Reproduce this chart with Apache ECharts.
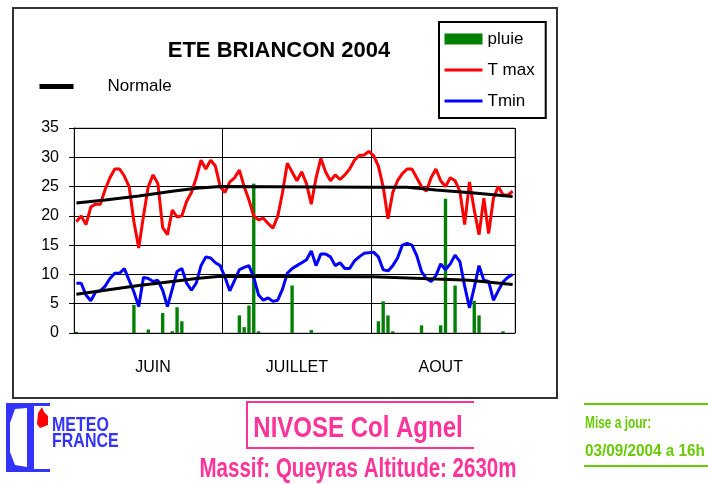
<!DOCTYPE html>
<html>
<head>
<meta charset="utf-8">
<script src="https://cdn.jsdelivr.net/npm/echarts@6/dist/echarts.min.js"></script>
<style>
  html, body { margin: 0; padding: 0; background: #fff; }
  #chart { width: 708px; height: 484px; }
</style>
</head>
<body>
<div id="chart"></div>
<script>
// jours du 1er juin au 31 aout 2004
const monthNums = ['06', '07', '08'];
const monthDays = [30, 31, 31];
const days = [];
monthNums.forEach((m, k) => {
  for (let d = 1; d <= monthDays[k]; d++) days.push(String(d).padStart(2, '0') + '/' + m);
});

// libelles de mois (un repere tous les 31 jours)
const monthLabels = ['JUIN', 'JUILLET', 'AOUT'];
const monthLabelDays = [16, 46, 76];
const tickEvery = 31;

const yTicks = [0, 5, 10, 15, 20, 25, 30, 35];

// pluie (mm)
const pluie = [
  0.2, 0, 0, 0, 0, 0, 0, 0, 0, 0,
  0, 0, 4.8, 0, 0, 0.6, 0, 0, 3.4, 0,
  0.3, 4.4, 2, 0, 0, 0, 0, 0, 0, 0,
  0, 0, 0, 0, 3, 1, 4.7, 25.5, 0.3, 0,
  0, 0, 0, 0, 0, 8.1, 0, 0, 0, 0.5,
  0, 0, 0, 0, 0, 0, 0, 0, 0, 0,
  0, 0, 0, 2, 5.4, 3, 0.3, 0, 0, 0,
  0, 0, 1.3, 0, 0, 0, 1.3, 22.9, 0, 8.1,
  0, 0, 0, 5.5, 3, 0, 0, 0, 0, 0.3,
  0, 0
];

// temperatures maximales
const tMax = [
  19, 20, 18.5, 21.5, 22, 22, 24.5, 26.5, 28, 28,
  26.8, 25, 19, 14.5, 20, 25, 27, 25.5, 18, 16.8,
  21, 19.8, 20, 22.5, 24, 26.5, 29.5, 28, 29.5, 28.5,
  25, 24, 25.8, 26.5, 27.8, 25, 22.7, 20, 19.3, 19.6,
  18.7, 17.9, 19.9, 24, 29, 27.5, 26, 27.5, 25.5, 22,
  26.5, 29.8, 27.5, 26, 27, 26.2, 27, 28, 29.5, 30.3,
  30.4, 31, 30.3, 28.5, 25, 19.5, 24, 26, 27.2, 28,
  28, 26.5, 25, 24.2, 26.5, 28, 26, 25, 26.5, 26,
  24.2, 18.5, 25.8, 21, 16.8, 23, 17, 23, 25, 23.6,
  23.5, 24.2
];

// temperatures minimales
const tMin = [
  8.5, 8.5, 6.5, 5.5, 7, 7.2, 8, 9.3, 10.2, 10.2,
  11, 9, 7, 4.5, 9.5, 9.3, 8.8, 9, 7.3, 4.5,
  7.5, 10.5, 11, 8.5, 7.3, 8.5, 11.5, 13, 12.8, 12,
  11.5, 9.5, 7.2, 9, 10.8, 11.2, 11.5, 9.5, 6.5, 5.6,
  6, 5.4, 5.6, 7.5, 10.2, 11, 11.5, 12, 12.5, 14,
  11.5, 13.5, 13.5, 13, 11.5, 12, 11, 11, 12.3, 13,
  13.6, 13.7, 13.8, 13, 10.8, 10.6, 11.5, 12.8, 15, 15.3,
  15, 13.2, 10.5, 9.3, 8.8, 9.8, 11.8, 10.8, 11.8, 13.3,
  12.2, 8, 4.3, 7.8, 11.5, 9, 8.8, 5.6, 7.2, 8.7,
  9.5, 10
];

// normales [jour, valeur]
const normaleMax = [[0, 22.2], [6, 22.7], [13, 23.4], [20, 24.2], [25, 24.7], [30, 25], [62, 24.9], [69, 24.9], [75, 24.4], [83, 23.9], [91, 23.3]];
const normaleMin = [[0, 6.6], [6, 7.3], [13, 8.1], [20, 8.8], [25, 9.3], [30, 9.7], [62, 9.6], [75, 9.2], [82, 9.0], [91, 8.3]];

const FONT = 'Liberation Sans';
const noDot = { opacity: 0 };
const chart = echarts.init(document.getElementById('chart'), null, { renderer: 'canvas' });

chart.setOption({
  animation: false,
  backgroundColor: '#fff',
  textStyle: { fontFamily: FONT, color: '#000' },
  title: {
    text: 'ETE BRIANCON 2004',
    left: 274,
    top: 35,
    textAlign: 'center',
    textStyle: { fontFamily: FONT, fontSize: 22, fontWeight: 'bold', color: '#000' }
  },
  legend: [
    {
      data: [
        { name: 'pluie', icon: 'rect' },
        { name: 'T max', itemStyle: noDot },
        { name: 'Tmin', itemStyle: noDot }
      ],
      orient: 'vertical',
      left: 439,
      top: 22,
      padding: [7, 11, 7, 4],
      itemWidth: 38,
      itemHeight: 11,
      itemGap: 11,
      lineStyle: { width: 3 },
      borderColor: '#000',
      borderWidth: 2,
      textStyle: { fontFamily: FONT, fontSize: 17, lineHeight: 20, color: '#000' }
    },
    {
      data: [{ name: 'Normale', itemStyle: noDot }],
      left: 37,
      top: 78,
      padding: 0,
      itemWidth: 34,
      itemHeight: 10,
      lineStyle: { width: 5 },
      formatter: '{n|{name}}',
      textStyle: {
        fontFamily: FONT, fontSize: 17, color: '#000',
        rich: { n: { fontFamily: FONT, fontSize: 17, color: '#000', padding: [0, 0, 0, 29] } }
      }
    }
  ],
  grid: {
    left: 74, top: 128, width: 441, height: 205,
    show: true, borderColor: '#999', borderWidth: 1
  },
  xAxis: {
    type: 'category',
    data: days,
    boundaryGap: true,
    axisLine: { lineStyle: { color: '#000', width: 1 } },
    axisTick: {
      interval: (i) => i % tickEvery === 0,
      length: 7,
      lineStyle: { color: '#000' }
    },
    splitLine: {
      show: true,
      interval: (i) => i % tickEvery === 0,
      lineStyle: { color: '#000', width: 1 }
    },
    axisLabel: {
      interval: (i) => monthLabelDays.indexOf(i) >= 0,
      formatter: (v, i) => monthLabels[monthLabelDays.indexOf(i)] || '',
      margin: 27,
      fontFamily: FONT,
      fontSize: 16,
      color: '#000'
    }
  },
  yAxis: {
    type: 'value',
    min: yTicks[0],
    max: yTicks[yTicks.length - 1],
    interval: 5,
    axisLine: { show: true, lineStyle: { color: '#000', width: 1 } },
    axisTick: { show: true, length: 5, lineStyle: { color: '#000' } },
    splitLine: { lineStyle: { color: '#000', width: 1 } },
    axisLabel: { margin: 15, fontFamily: FONT, fontSize: 16, color: '#000' }
  },
  series: [
    {
      name: 'pluie', type: 'bar', data: pluie,
      barCategoryGap: '30%',
      itemStyle: { color: '#008000' }
    },
    {
      name: 'T max', type: 'line', data: tMax,
      symbol: 'none', lineStyle: { color: '#ff0000', width: 3 }, itemStyle: { color: '#ff0000' }
    },
    {
      name: 'Tmin', type: 'line', data: tMin,
      symbol: 'none', lineStyle: { color: '#0000ff', width: 3 }, itemStyle: { color: '#0000ff' }
    },
    {
      name: 'Normale', type: 'line', data: normaleMax,
      symbol: 'none', lineStyle: { color: '#000', width: 3 }, itemStyle: { color: '#000' }, z: 4
    },
    {
      name: 'Normale', type: 'line', data: normaleMin,
      symbol: 'none', lineStyle: { color: '#000', width: 3 }, itemStyle: { color: '#000' }, z: 4
    }
  ],
  graphic: [
    // cadre du graphique
    { type: 'rect', shape: { x: 13, y: 8, width: 544, height: 390 }, style: { fill: null, stroke: '#333', lineWidth: 2 }, z: -1 },
    // logo Meteo France
    { type: 'polygon', shape: { points: [[6, 403], [50, 403], [50, 406], [34, 406], [34, 469], [50, 469], [50, 472], [6, 472]] }, style: { fill: '#3333ff' } },
    { type: 'polygon', shape: { points: [[15, 409], [27, 408], [27, 467], [15, 465], [10, 452], [10, 423]] }, style: { fill: '#fff' } },
    { type: 'polygon', shape: { points: [[38, 413], [42, 407], [44, 412], [48, 416], [48, 425], [40, 428], [37, 424]] }, style: { fill: '#ff0000' } },
    { type: 'text', x: 52, y: 425, scaleX: 0.8, style: { text: 'METEO', fill: '#3333ff', font: 'bold 20px ' + FONT, textVerticalAlign: 'middle' } },
    { type: 'text', x: 52, y: 441, scaleX: 0.8, style: { text: 'FRANCE', fill: '#3333ff', font: 'bold 20px ' + FONT, textVerticalAlign: 'middle' } },
    // station
    { type: 'polyline', shape: { points: [[474, 402], [247, 402], [247, 448], [474, 448]] }, style: { stroke: '#ff3399', lineWidth: 2, fill: null } },
    { type: 'text', x: 358, y: 429, scaleX: 0.8, style: { text: 'NIVOSE Col Agnel', fill: '#ff3399', font: 'bold 30px ' + FONT, textAlign: 'center', textVerticalAlign: 'middle' } },
    { type: 'text', x: 358, y: 470, scaleX: 0.76, style: { text: 'Massif: Queyras Altitude: 2630m', fill: '#ff3399', font: 'bold 27px ' + FONT, textAlign: 'center', textVerticalAlign: 'middle' } },
    // mise a jour
    { type: 'line', shape: { x1: 584, y1: 404, x2: 708, y2: 404 }, style: { stroke: '#66cc00', lineWidth: 2 } },
    { type: 'line', shape: { x1: 584, y1: 466, x2: 708, y2: 466 }, style: { stroke: '#66cc00', lineWidth: 2 } },
    { type: 'text', x: 585, y: 423, scaleX: 0.7, style: { text: 'Mise a jour:', fill: '#66cc00', font: 'bold 17px ' + FONT, textVerticalAlign: 'middle' } },
    { type: 'text', x: 585, y: 451, scaleX: 0.9, style: { text: '03/09/2004 a 16h', fill: '#66cc00', font: 'bold 17px ' + FONT, textVerticalAlign: 'middle' } }
  ]
});
</script>
</body>
</html>
